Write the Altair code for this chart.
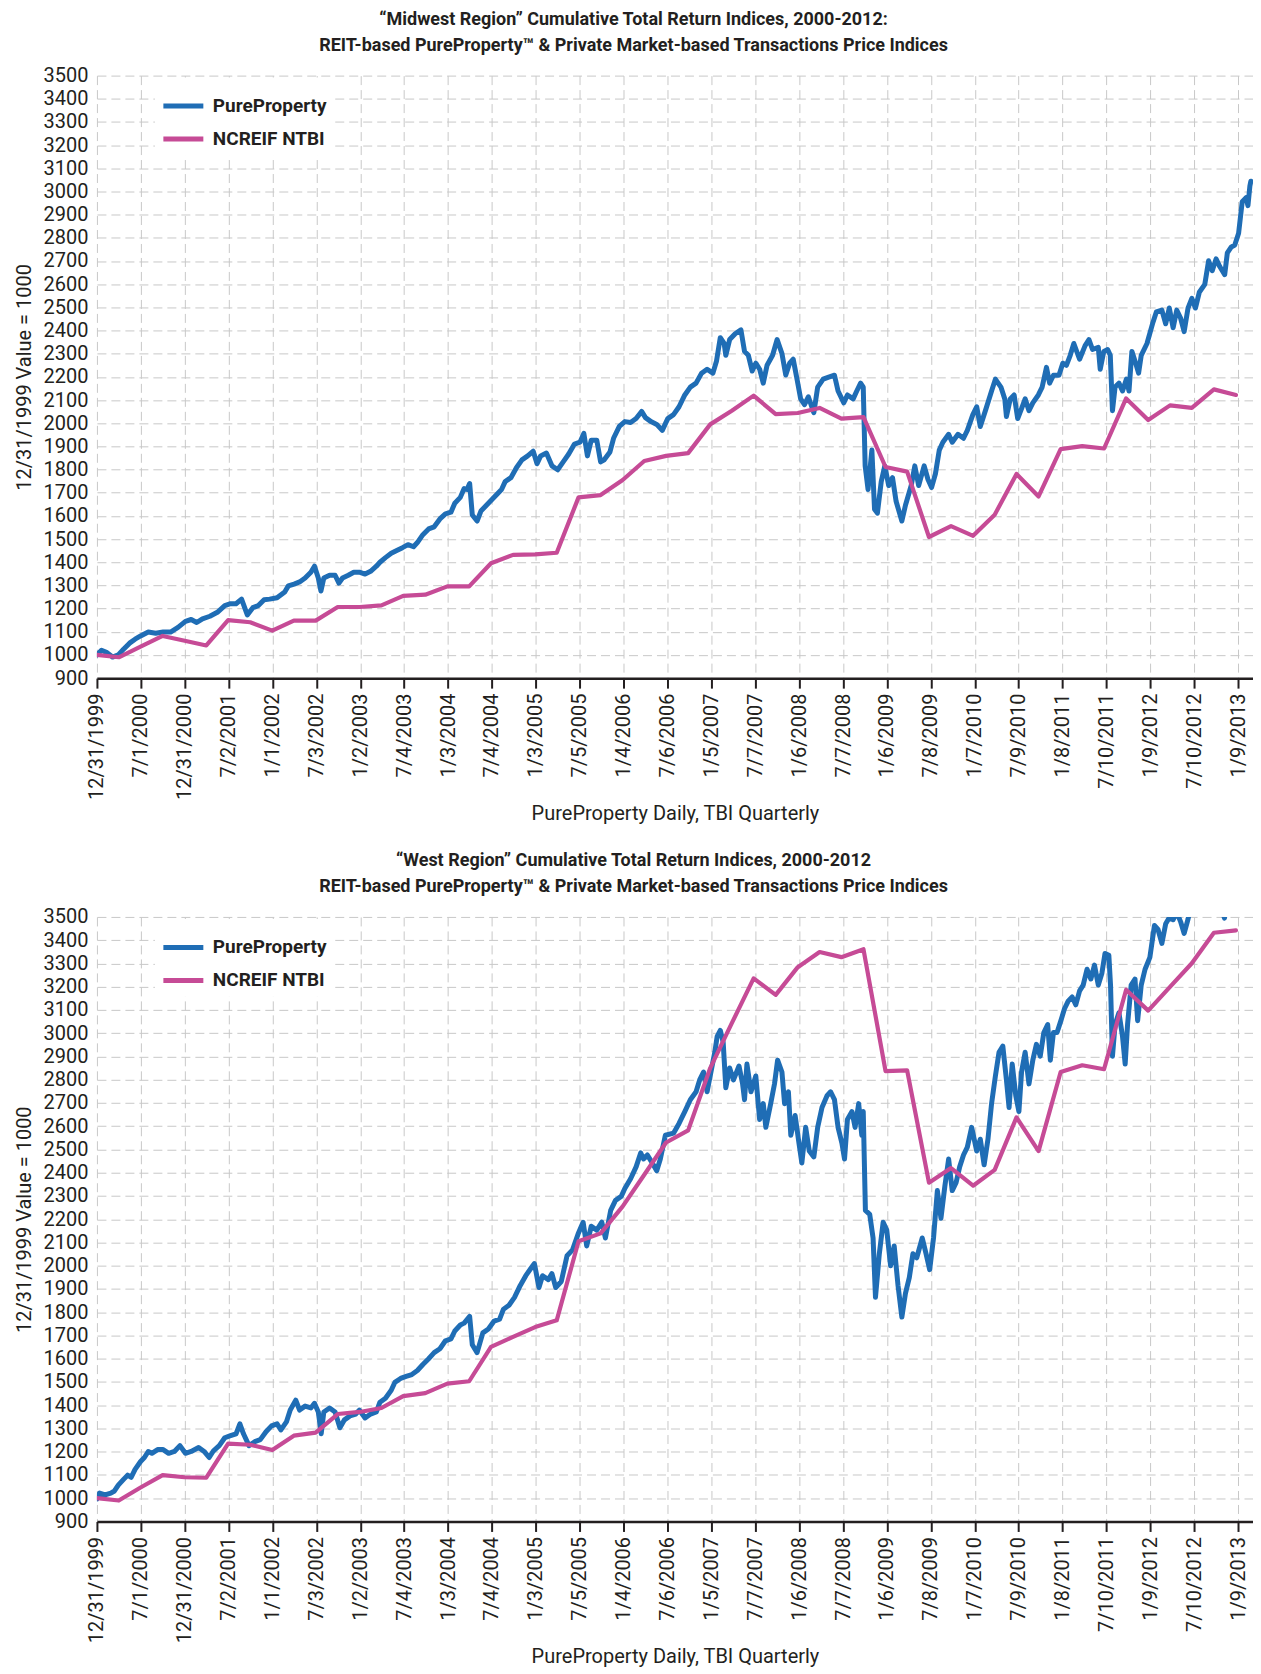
import altair as alt
import pandas as pd

# ---------------- axis categories ----------------
TICK_LABELS = ["12/31/1999", "7/1/2000", "12/31/2000", "7/2/2001", "1/1/2002", "7/3/2002",
               "1/2/2003", "7/4/2003", "1/3/2004", "7/4/2004", "1/3/2005", "7/5/2005",
               "1/4/2006", "7/6/2006", "1/5/2007", "7/7/2007", "1/6/2008", "7/7/2008",
               "1/6/2009", "7/8/2009", "1/7/2010", "7/9/2010", "1/8/2011", "7/10/2011",
               "1/9/2012", "7/10/2012", "1/9/2013"]
TICK_STEP = 183          # days between labelled ticks
X_MAX = 4820             # days after 12/31/1999 shown on the axis
SERIES = ["PureProperty", "NCREIF NTBI"]
COLORS = ["#1f6db5", "#c64b96"]

# ---------------- Midwest: PureProperty (daily, sampled) ----------------
mw_pp_day = [0, 19, 42, 65, 89, 112, 136, 159, 182, 214, 245, 276, 307, 338, 369, 393, 416, 440, 471, 502,
             533, 557, 580, 603, 627, 650, 673, 697, 720, 751, 783, 798, 822, 845, 868, 892, 907, 923, 934, 946,
             970, 993, 1009, 1024, 1048, 1071, 1094, 1118, 1141, 1165, 1180, 1203, 1227, 1250, 1274, 1297, 1320, 1336, 1359, 1383,
             1406, 1430, 1453, 1476, 1492, 1515, 1531, 1543, 1554, 1565, 1585, 1601, 1624, 1648, 1671, 1687, 1702, 1726, 1749, 1772,
             1796, 1819, 1835, 1850, 1874, 1897, 1921, 1944, 1967, 1991, 2014, 2030, 2045, 2061, 2084, 2100, 2115, 2139, 2154, 2178,
             2201, 2225, 2248, 2271, 2287, 2310, 2334, 2357, 2380,
             2404, 2427, 2451, 2474, 2498, 2521, 2544, 2568, 2583, 2599, 2615, 2622, 2638, 2661, 2685, 2700, 2716, 2732, 2747, 2763,
             2778, 2794, 2817, 2836, 2856, 2872, 2888, 2903, 2919, 2934, 2950, 2966, 2989, 3005, 3028, 3051, 3075, 3090, 3114, 3129,
             3153, 3168, 3184, 3195, 3203, 3215, 3231, 3242, 3254, 3270, 3285, 3301, 3317, 3332, 3356, 3371, 3395, 3410, 3426, 3449,
             3465, 3480, 3496, 3512, 3527, 3551, 3566, 3590, 3613, 3629, 3652, 3668, 3683, 3707, 3730, 3746, 3769, 3785, 3792, 3808,
             3824, 3839, 3855, 3870, 3886, 3902, 3925, 3941, 3959, 3972, 3988, 4011, 4027, 4042, 4058, 4073, 4097, 4120, 4136, 4151,
             4175, 4183, 4198, 4214, 4225, 4234, 4245, 4261, 4276, 4292, 4303, 4315, 4331, 4343, 4354, 4378, 4401, 4417, 4440, 4456,
             4471, 4487, 4502, 4518, 4533, 4549, 4565, 4580, 4596, 4619, 4635, 4650, 4666, 4682, 4702, 4713, 4729, 4744, 4760, 4775,
             4791, 4799, 4807, 4811]
mw_pp_val = [1000, 1020, 1010, 991, 1000, 1026, 1051, 1068, 1082, 1099, 1094, 1099, 1099, 1119, 1145, 1153, 1140, 1156, 1167, 1184,
             1213, 1221, 1221, 1241, 1173, 1204, 1213, 1238, 1241, 1247, 1272, 1298, 1306, 1315, 1332, 1357, 1383, 1332, 1276, 1332,
             1344, 1344, 1310, 1332, 1344, 1357, 1357, 1349, 1361, 1383, 1400, 1420, 1439, 1451, 1463, 1476, 1467, 1485, 1519, 1544,
             1553, 1587, 1609, 1616, 1655, 1680, 1718, 1714, 1740, 1604, 1578, 1621, 1646, 1672, 1697, 1714, 1748, 1765, 1808, 1842,
             1859, 1879, 1825, 1859, 1871, 1816, 1799, 1833, 1867, 1910, 1918, 1956, 1859, 1927, 1927, 1833, 1842, 1876, 1935, 1986,
             2007, 2003, 2020, 2051, 2024, 2007, 1995, 1969, 2020,
             2037, 2071, 2122, 2156, 2173, 2216, 2233, 2216, 2267, 2369, 2344, 2293, 2361, 2386, 2403, 2310, 2293, 2225, 2259, 2233,
             2173, 2250, 2293, 2361, 2301, 2208, 2259, 2276, 2190, 2105, 2080, 2114, 2046, 2156, 2190, 2199, 2207, 2139, 2088, 2122,
             2105, 2139, 2173, 2156, 1816, 1714, 1884, 1629, 1612, 1748, 1816, 1731, 1765, 1663, 1578, 1646, 1731, 1816, 1731, 1816,
             1757, 1723, 1782, 1884, 1918, 1952, 1918, 1952, 1935, 1969, 2037, 2071, 1986, 2063, 2139, 2190, 2156, 2105, 2029, 2105,
             2122, 2020, 2063, 2105, 2054, 2088, 2122, 2156, 2241, 2173, 2207, 2207, 2259, 2250, 2293, 2344, 2276, 2335, 2361, 2318,
             2327, 2233, 2310, 2318, 2293, 2054, 2156, 2173, 2139, 2190, 2139, 2310, 2259, 2216, 2293, 2344, 2429, 2480, 2488, 2429,
             2497, 2412, 2488, 2454, 2395, 2497, 2539, 2497, 2565, 2599, 2701, 2658, 2709, 2675, 2641, 2735, 2760, 2769, 2820, 2956,
             2973, 2939, 3024, 3044]

# ---------------- Midwest: NCREIF NTBI (quarterly, 12/1999 .. 12/2012) ----------------
mw_ntbi_val = [1000, 990, 1036, 1082, 1061, 1041, 1150, 1141, 1105, 1148,
               1148, 1207, 1207, 1214, 1255, 1260, 1296, 1296, 1396, 1432,
               1434, 1441, 1680, 1690, 1755, 1837, 1859, 1871, 1995, 2054,
               2119, 2039, 2044, 2066, 2020, 2026, 1811, 1791, 1509, 1556,
               1514, 1605, 1781, 1684, 1888, 1901, 1891, 2107, 2014, 2077,
               2066, 2146, 2122]

# ---------------- West: PureProperty (daily, sampled) ----------------
w_pp_day = [0, 11, 34, 58, 73, 89, 112, 128, 143, 159, 182, 198, 214, 229, 253, 276, 299, 323, 346, 369,
            393, 424, 447, 468, 486, 510, 533, 557, 580, 596, 611, 634, 658, 681, 705, 728, 751, 767, 790, 806,
            829, 845, 868, 892, 907, 923, 935, 946, 970, 993, 1013, 1032, 1055, 1079, 1094, 1118, 1141, 1165, 1180, 1203,
            1227, 1242, 1266, 1289, 1313, 1336, 1359, 1383, 1406, 1430, 1453, 1476, 1492, 1515, 1531, 1554, 1565, 1585, 1609, 1632,
            1656, 1679, 1695, 1718, 1741, 1765, 1788, 1811, 1824, 1843, 1858, 1882, 1897, 1913, 1936, 1960, 1983, 2006, 2027, 2042,
            2061, 2084, 2105, 2120, 2142, 2162, 2186, 2201, 2225, 2248, 2267, 2279, 2295, 2310, 2334, 2349, 2370,
            2404, 2427, 2451, 2474, 2498, 2513, 2529, 2544, 2560, 2576, 2586, 2599, 2611, 2622, 2638, 2654, 2677, 2692, 2700, 2710,
            2727, 2747, 2763, 2778, 2789, 2809, 2825, 2838, 2856, 2867, 2883, 2893, 2911, 2927, 2939, 2955, 2970, 2989, 3005, 3023,
            3044, 3059, 3075, 3090, 3106, 3117, 3129, 3148, 3161, 3176, 3189, 3195, 3204, 3222, 3236, 3246, 3262, 3278, 3293, 3309,
            3324, 3340, 3356, 3371, 3387, 3402, 3418, 3441, 3457, 3472, 3488, 3504, 3519, 3535, 3551, 3566, 3582, 3597, 3613, 3629,
            3647, 3668, 3683, 3699, 3715, 3730, 3746, 3761, 3777, 3792, 3803, 3816, 3831, 3844, 3855, 3870, 3886, 3902, 3917, 3933,
            3948, 3964, 3975, 3988, 4003, 4019, 4034, 4050, 4066, 4081, 4097, 4112, 4128, 4144, 4159, 4175, 4190, 4203, 4219, 4226,
            4234, 4245, 4261, 4276, 4287, 4297, 4312, 4328, 4339, 4354, 4370, 4390, 4409, 4424, 4440, 4456, 4471, 4487, 4502, 4518,
            4533, 4549, 4565, 4596, 4627, 4658, 4682, 4701, 4713, 4737, 4768, 4811]
w_pp_val = [997, 1022, 1014, 1022, 1031, 1056, 1082, 1099, 1090, 1124, 1158, 1175, 1201, 1193, 1209, 1209, 1193, 1201, 1226, 1193,
            1201, 1218, 1201, 1175, 1204, 1226, 1260, 1269, 1277, 1320, 1277, 1226, 1243, 1252, 1286, 1311, 1320, 1294, 1328, 1379,
            1422, 1379, 1396, 1388, 1408, 1371, 1277, 1371, 1388, 1371, 1303, 1337, 1354, 1362, 1379, 1345, 1362, 1371, 1413, 1430,
            1464, 1498, 1515, 1524, 1532, 1549, 1575, 1600, 1626, 1643, 1677, 1685, 1719, 1745, 1753, 1782, 1660, 1626, 1711, 1728,
            1762, 1770, 1813, 1830, 1864, 1915, 1957, 1991, 2009, 1906, 1957, 1940, 1966, 1906, 1932, 2043, 2068, 2136, 2187, 2085,
            2170, 2153, 2187, 2119, 2238, 2281, 2298, 2332, 2374, 2425, 2485, 2459, 2476, 2451, 2408, 2459, 2561,
            2570, 2612, 2663, 2714, 2748, 2799, 2833, 2748, 2833, 2918, 2986, 3012, 2961, 2765, 2850, 2799, 2859, 2782, 2714, 2867,
            2748, 2816, 2629, 2697, 2595, 2697, 2782, 2884, 2833, 2697, 2748, 2561, 2646, 2527, 2442, 2595, 2493, 2468, 2595, 2680,
            2731, 2748, 2714, 2595, 2527, 2459, 2629, 2663, 2595, 2697, 2561, 2663, 2238, 2221, 2119, 1864, 2051, 2187, 2153, 2000,
            2085, 1915, 1779, 1881, 1949, 2051, 2034, 2119, 2051, 1983, 2119, 2323, 2204, 2340, 2459, 2323, 2357, 2425, 2476, 2510,
            2595, 2493, 2544, 2434, 2544, 2697, 2816, 2918, 2944, 2799, 2680, 2867, 2731, 2663, 2833, 2918, 2782, 2884, 2952, 2901,
            3003, 3037, 2884, 3003, 3003, 3054, 3105, 3139, 3156, 3122, 3182, 3207, 3275, 3233, 3293, 3207, 3258, 3343, 3335, 3207,
            2901, 3037, 3088, 2986, 2867, 3037, 3207, 3233, 3054, 3207, 3275, 3326, 3463, 3446, 3386, 3471, 3497, 3488, 3520, 3480,
            3429, 3490, 3560, 3620, 3650, 3600, 3560, 3495, 3560, 3640, 3700, 3760]

# ---------------- West: NCREIF NTBI (quarterly, 12/1999 .. 12/2012) ----------------
w_ntbi_val = [1000, 990, 1046, 1099, 1090, 1088, 1235, 1230, 1207, 1269,
              1282, 1362, 1371, 1388, 1439, 1452, 1493, 1503, 1651, 1694,
              1736, 1765, 2105, 2139, 2255, 2391, 2530, 2582, 2850, 3043,
              3236, 3165, 3284, 3349, 3327, 3361, 2837, 2840, 2357, 2420,
              2344, 2412, 2638, 2493, 2833, 2862, 2845, 3187, 3097, 3199,
              3301, 3432, 3442]

BASE = pd.Timestamp("1999-12-31")
quarter_dates = pd.date_range(BASE, periods=len(mw_ntbi_val), freq=pd.offsets.QuarterEnd())
quarter_day = [(d - BASE).days for d in quarter_dates]

TEXT = "#231f20"
FONT = "Roboto"
label_expr = "[" + ",".join("'" + s + "'" for s in TICK_LABELS) + "][round(datum.value / %d)]" % TICK_STEP


def panel(pp_day, pp_val, ntbi_val, title_lines, height):
    df = pd.concat([
        pd.DataFrame({"day": pp_day, "value": pp_val, "series": SERIES[0]}),
        pd.DataFrame({"day": quarter_day, "value": ntbi_val, "series": SERIES[1]}),
    ], ignore_index=True)

    x = alt.X("day:Q",
              scale=alt.Scale(domain=[0, X_MAX], nice=False, zero=False),
              axis=alt.Axis(values=[i * TICK_STEP for i in range(len(TICK_LABELS))],
                            labelExpr=label_expr, labelAngle=270,
                            title="PureProperty Daily, TBI Quarterly",
                            tickSize=10, tickWidth=2, tickColor=TEXT,
                            domainColor=TEXT, domainWidth=2.5,
                            labelPadding=5, titlePadding=4,
                            grid=True))
    y = alt.Y("value:Q",
              scale=alt.Scale(domain=[900, 3500], nice=False, zero=False),
              axis=alt.Axis(values=list(range(900, 3600, 100)), format="d",
                            title="12/31/1999 Value = 1000",
                            domain=False, ticks=False,
                            labelPadding=9, titlePadding=9, grid=True))
    color = alt.Color("series:N",
                      scale=alt.Scale(domain=SERIES, range=COLORS),
                      legend=alt.Legend(title=None, orient="none", legendX=58, legendY=2,
                                        symbolType="stroke", symbolStrokeWidth=5, symbolSize=1600,
                                        labelFont=FONT, labelFontSize=19, labelFontWeight="bold",
                                        labelColor=TEXT, labelOffset=7, rowPadding=-3,
                                        fillColor="white", padding=6))
    base = alt.Chart(df)
    blue = base.transform_filter(alt.datum.series == SERIES[0]).mark_line(
        clip=True, strokeWidth=5, strokeJoin="round", strokeCap="round").encode(x=x, y=y, color=color)
    mag = base.transform_filter(alt.datum.series == SERIES[1]).mark_line(
        clip=True, strokeWidth=4.2, strokeJoin="round", strokeCap="round").encode(x=x, y=y, color=color)
    return alt.layer(blue, mag).properties(
        width=1157, height=height,
        title=alt.TitleParams(text=title_lines, font=FONT, fontSize=18, fontWeight="bold",
                              color=TEXT, lineHeight=26, anchor="middle", frame="bounds", offset=11))


top = panel(mw_pp_day, mw_pp_val, mw_ntbi_val,
            ["\u201cMidwest Region\u201d Cumulative Total Return Indices, 2000-2012:",
             "REIT-based PureProperty\u2122 & Private Market-based Transactions Price Indices"], 603)
bottom = panel(w_pp_day, w_pp_val, w_ntbi_val,
               ["\u201cWest Region\u201d Cumulative Total Return Indices, 2000-2012",
                "REIT-based PureProperty\u2122 & Private Market-based Transactions Price Indices"], 605)

chart = alt.vconcat(top, bottom, spacing=28).resolve_legend(color="independent").configure(
    font=FONT, padding={"left": 6, "top": 2, "right": 0, "bottom": 0}
).configure_view(stroke=None).configure_axis(
    labelFont=FONT, labelFontSize=20, labelColor=TEXT,
    titleFont=FONT, titleFontSize=20, titleFontWeight="normal", titleColor=TEXT,
    gridColor="#c8c8c8", gridDash=[9, 5], gridWidth=1
)

chart.save("out.html", embed_options={"renderer": "svg", "actions": False})
